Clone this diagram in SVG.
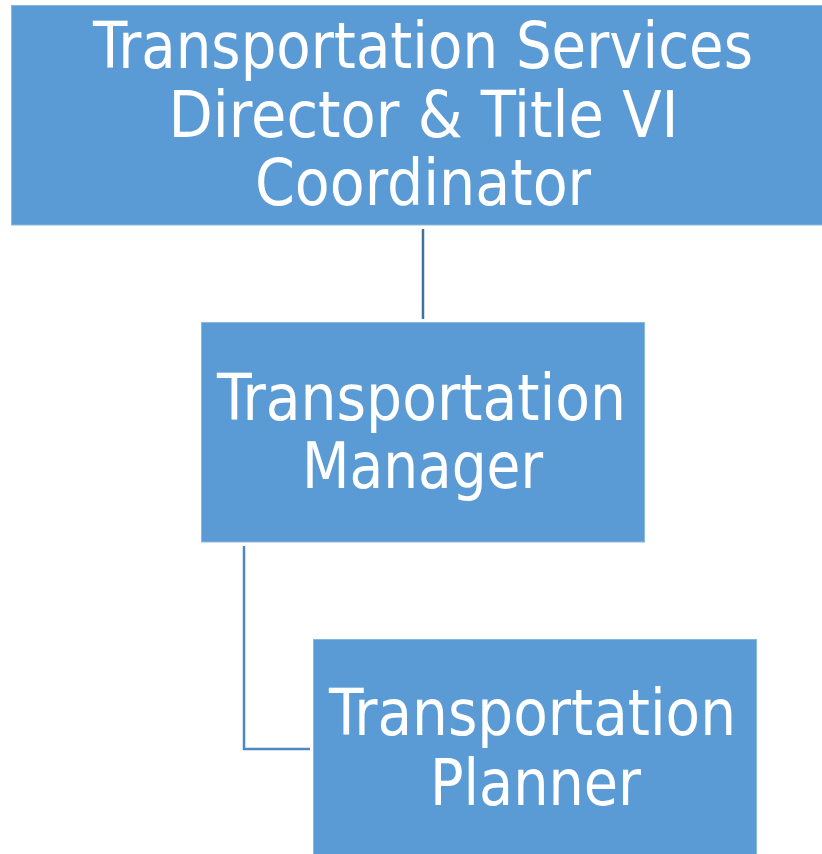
<svg xmlns="http://www.w3.org/2000/svg" width="822" height="854" viewBox="0 0 822 854">
  <style>
    .box { fill: #5B9BD5; stroke: #8AB6E0; stroke-width: 1; }
    .label { fill: #FFFFFF; font-family: "DejaVu Sans Condensed", "DejaVu Sans", sans-serif; font-size: 64px; text-anchor: middle; }
    .link { fill: none; stroke-width: 2.5; }
  </style>
  <rect width="822" height="854" fill="#FFFFFF"/>

  <!-- connectors -->
  <g id="connectors">
    <line class="link" x1="423" y1="229" x2="423" y2="319" stroke="#41719C"/>
    <polyline class="link" points="244,546 244,749 310,749" stroke="#4F87C5"/>
  </g>

  <!-- director -->
  <g id="director">
    <rect class="box" x="11.5" y="5.5" width="830" height="219.5"/>
    <text class="label" x="423" y="68" textLength="660" lengthAdjust="spacingAndGlyphs">Transportation Services</text>
    <text class="label" x="423.5" y="137" textLength="510" lengthAdjust="spacingAndGlyphs">Director &amp; Title VI</text>
    <text class="label" x="423" y="205" textLength="336" lengthAdjust="spacingAndGlyphs">Coordinator</text>
  </g>

  <!-- manager -->
  <g id="manager">
    <rect class="box" x="201.5" y="322.5" width="443" height="219.5"/>
    <text class="label" x="421.5" y="420" textLength="409" lengthAdjust="spacingAndGlyphs">Transportation</text>
    <text class="label" x="422.5" y="488" textLength="241" lengthAdjust="spacingAndGlyphs">Manager</text>
  </g>

  <!-- planner -->
  <g id="planner">
    <rect class="box" x="313.5" y="639.5" width="443" height="220"/>
    <text class="label" x="532.5" y="735" textLength="407" lengthAdjust="spacingAndGlyphs">Transportation</text>
    <text class="label" x="535.5" y="805" textLength="211" lengthAdjust="spacingAndGlyphs">Planner</text>
  </g>
</svg>
